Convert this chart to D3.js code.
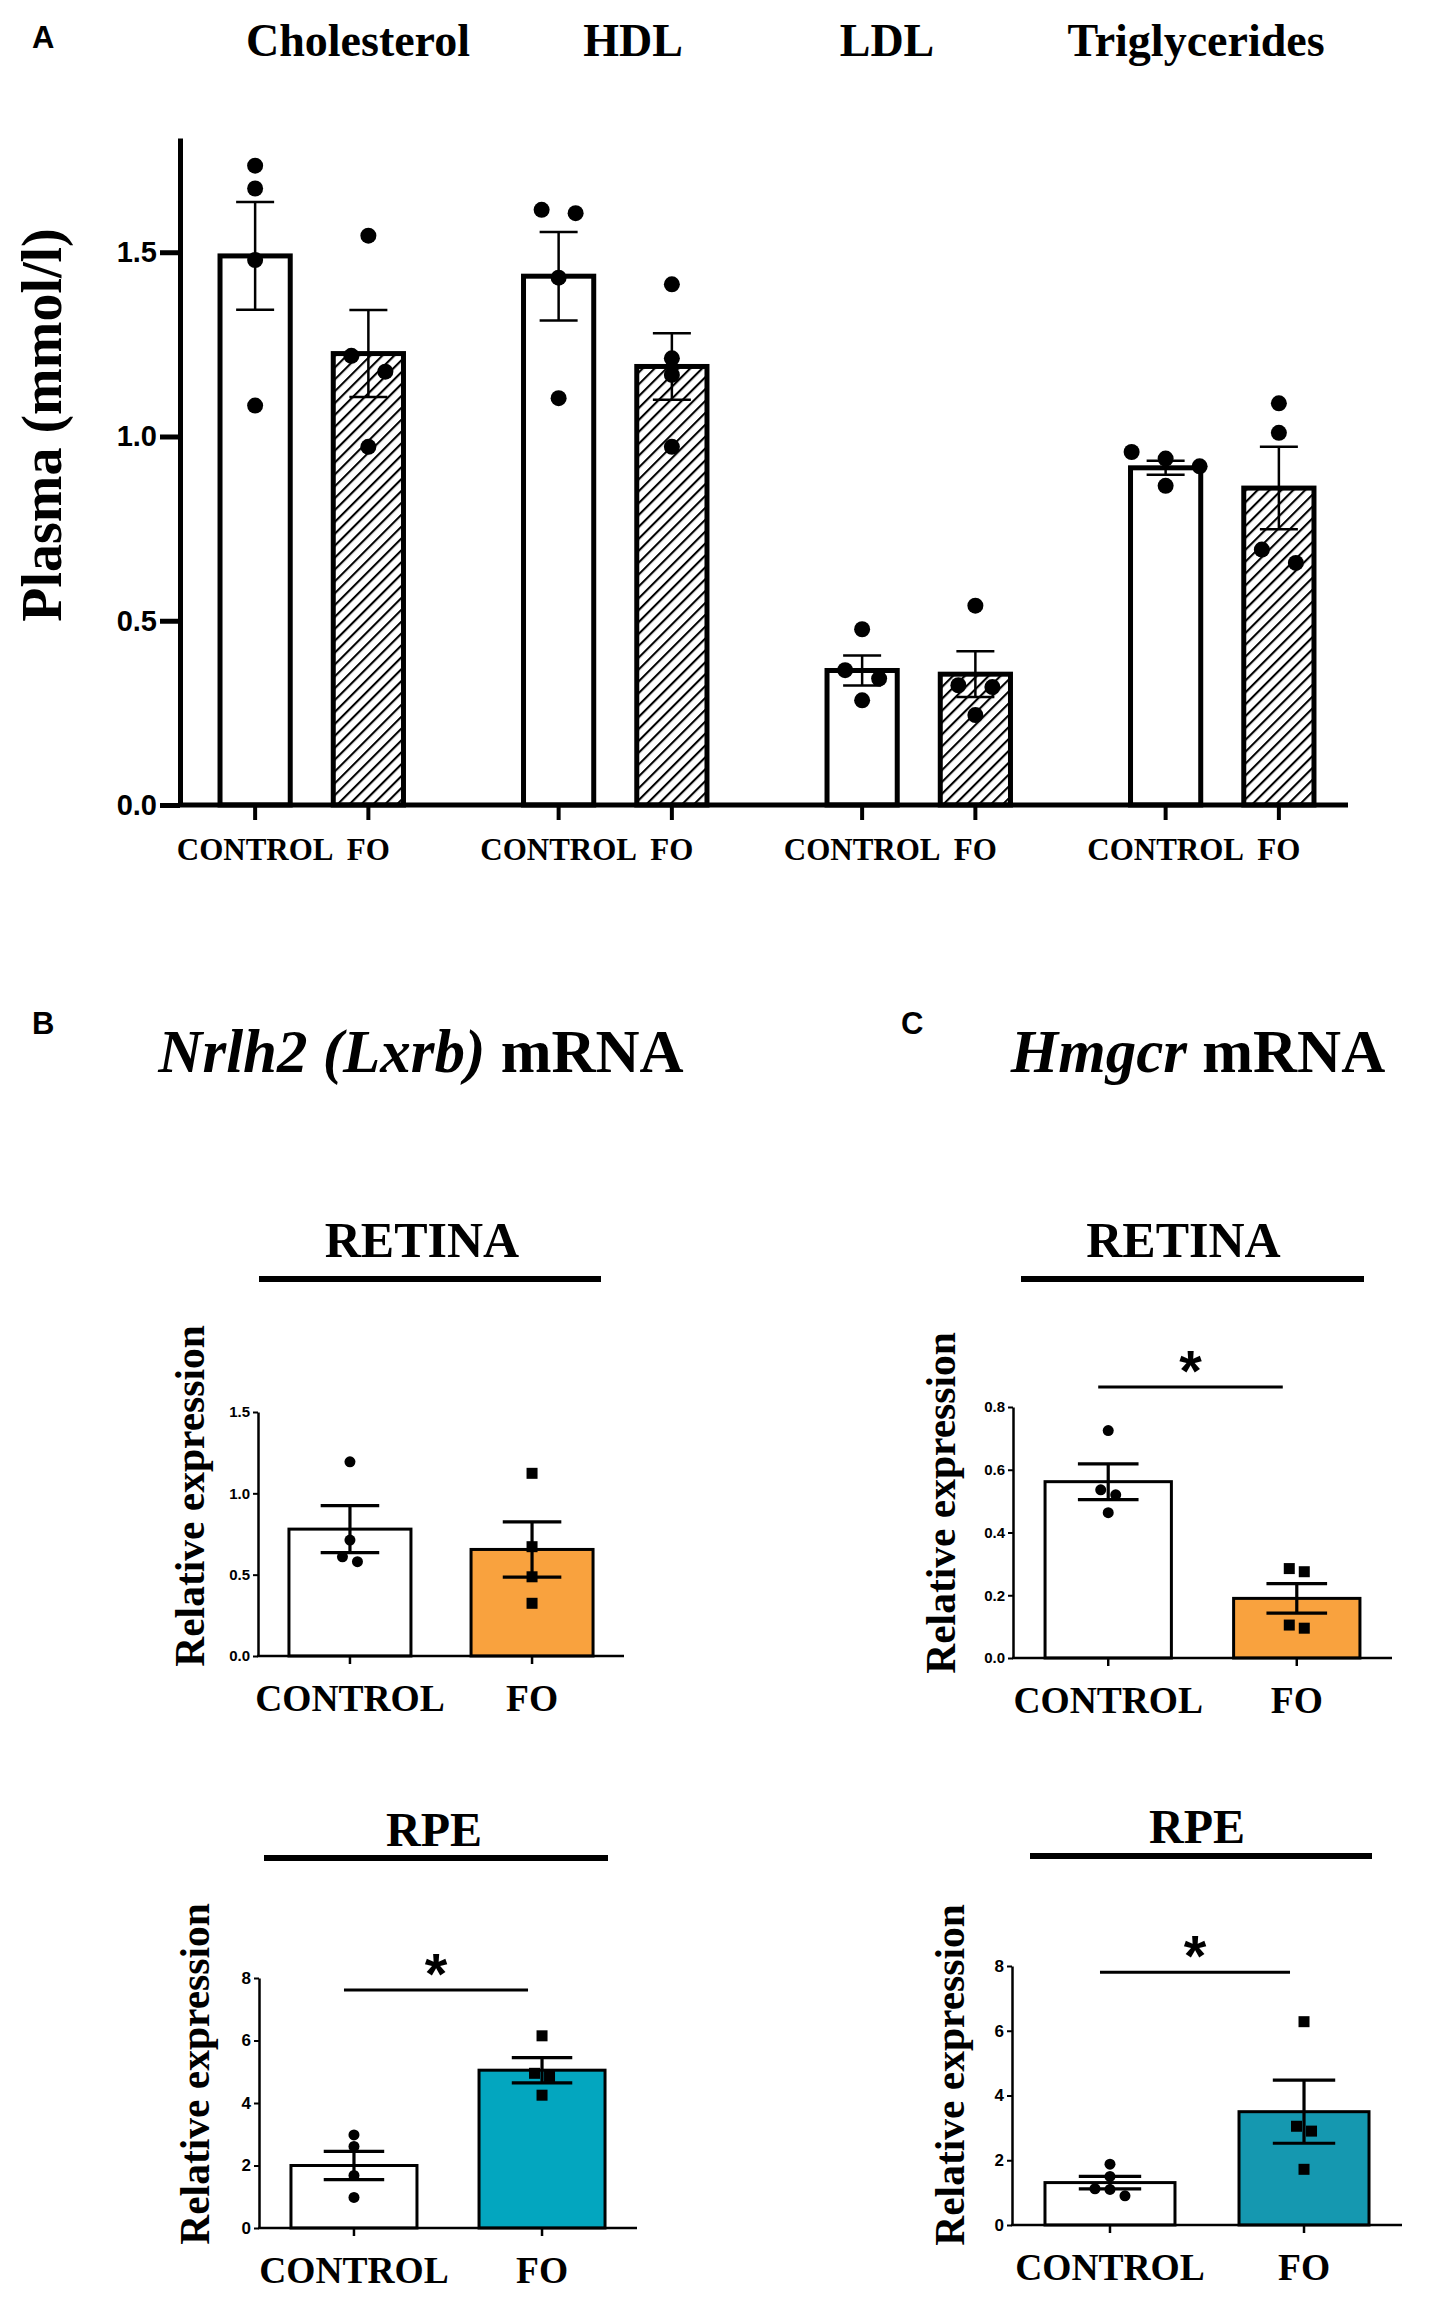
<!DOCTYPE html>
<html lang="en">
<head>
<meta charset="UTF-8">
<title>Plasma lipids and retina / RPE mRNA</title>
<script src="https://d3js.org/d3.v7.min.js"></script>
<style>
  body { margin: 0; background: #ffffff; }
  .serif { font-family: "Liberation Serif", "Times New Roman", serif; }
  .sans { font-family: "Liberation Sans", Arial, sans-serif; }
</style>
</head>
<body>
<svg id="svg" width="1429" height="2308"></svg>
<script>
// ---------- data ----------
const lipids = ["Cholesterol", "HDL", "LDL", "Triglycerides"];
const groups = ["CONTROL", "FO"];

// panel A, plasma (mmol/l)
const plasmaControlMean = [1.49, 1.435, 0.365, 0.915];
const plasmaControlSem  = [0.146, 0.12, 0.041, 0.019];
const plasmaFoMean      = [1.225, 1.19, 0.355, 0.86];
const plasmaFoSem       = [0.118, 0.09, 0.062, 0.112];
const plasmaControlPoints = [
  [1.735, 1.673, 1.479, 1.084],
  [1.615, 1.606, 1.431, 1.104],
  [0.477, 0.366, 0.343, 0.284],
  [0.958, 0.940, 0.919, 0.866]
];
const plasmaFoPoints = [
  [1.545, 1.219, 1.176, 0.972],
  [1.413, 1.212, 1.167, 0.972],
  [0.541, 0.325, 0.320, 0.244],
  [1.090, 1.010, 0.693, 0.657]
];
const plasmaTicks = [0, 0.5, 1.0, 1.5];

// panels B / C, relative expression  [CONTROL, FO]
const nrlh2RetinaMean = [0.78, 0.655];
const nrlh2RetinaSem  = [0.145, 0.17];
const nrlh2RetinaPoints = [[1.194, 0.713, 0.61, 0.58], [1.123, 0.672, 0.487, 0.324]];

const hmgcrRetinaMean = [0.562, 0.19];
const hmgcrRetinaSem  = [0.057, 0.047];
const hmgcrRetinaPoints = [[0.725, 0.536, 0.52, 0.463], [0.285, 0.275, 0.105, 0.095]];

const nrlh2RpeMean = [2.0, 5.05];
const nrlh2RpeSem  = [0.455, 0.405];
const nrlh2RpePoints = [[2.98, 2.61, 1.68, 0.98], [6.15, 4.95, 4.85, 4.25]];

const hmgcrRpeMean = [1.31, 3.5];
const hmgcrRpeSem  = [0.195, 0.975];
const hmgcrRpePoints = [[1.88, 1.5, 1.12, 1.1, 0.9], [6.28, 3.05, 2.9, 1.72]];

const retinaTicksB = [0, 0.5, 1.0, 1.5];
const retinaTicksC = [0, 0.2, 0.4, 0.6, 0.8];
const rpeTicks = [0, 2, 4, 6, 8];

const orange = "#f9a23e";
const tealB = "#03a6bf";
const tealC = "#1598b0";

// ---------- helpers ----------
const svg = d3.select("#svg");
svg.append("rect").attr("width", 1429).attr("height", 2308).attr("fill", "#fff");

// GraphPad-like scatter: points at nearly the same height sit side by side
function swarm(values, y, d, step) {
  const sorted = values.map(v => ({ v, py: y(v) })).sort((a, b) => a.py - b.py);
  const rows = [];
  sorted.forEach(p => {
    const row = rows[rows.length - 1];
    if (row && Math.abs(p.py - row[0].py) < d) row.push(p);
    else rows.push([p]);
  });
  const out = [];
  rows.forEach(row => row.forEach((p, i) => out.push({ v: p.v, py: p.py, dx: (i - (row.length - 1) / 2) * step })));
  return out;
}

// hatch pattern
const defs = svg.append("defs");
defs.append("pattern")
  .attr("id", "hatch")
  .attr("patternUnits", "userSpaceOnUse")
  .attr("width", 8.4).attr("height", 8.4)
  .attr("patternTransform", "rotate(45)")
  .append("line")
  .attr("x1", 0).attr("y1", 0).attr("x2", 0).attr("y2", 8.4)
  .attr("stroke", "#000").attr("stroke-width", 4.2);

// ---------- panel A ----------
const gA = svg.append("g");
const yA = d3.scaleLinear().domain([0, 1.81]).range([805, 138]);
const xGroup = d3.scaleBand().domain(lipids).range([160, 1374]);
const xSubA = d3.scaleBand().domain(groups).range([0, xGroup.bandwidth()]).paddingInner(0.38).paddingOuter(0.53);
const titleX = [358, 633, 887, 1196];

const barsA = [];
lipids.forEach((l, i) => {
  barsA.push({ lipid: l, group: "CONTROL", mean: plasmaControlMean[i], sem: plasmaControlSem[i], pts: plasmaControlPoints[i] });
  barsA.push({ lipid: l, group: "FO", mean: plasmaFoMean[i], sem: plasmaFoSem[i], pts: plasmaFoPoints[i] });
});
const cxA = d => xGroup(d.lipid) + xSubA(d.group) + xSubA.bandwidth() / 2;

gA.selectAll(".barA").data(barsA).join("rect")
  .attr("x", d => xGroup(d.lipid) + xSubA(d.group))
  .attr("y", d => yA(d.mean))
  .attr("width", xSubA.bandwidth())
  .attr("height", d => yA(0) - yA(d.mean))
  .attr("fill", d => d.group === "FO" ? "url(#hatch)" : "#fff")
  .attr("stroke", "#000").attr("stroke-width", 5);

const errA = gA.selectAll(".errA").data(barsA).join("g");
errA.append("line")
  .attr("x1", cxA).attr("x2", cxA)
  .attr("y1", d => yA(d.mean - d.sem)).attr("y2", d => yA(d.mean + d.sem))
  .attr("stroke", "#000").attr("stroke-width", 2.5);
[1, -1].forEach(s => {
  errA.append("line")
    .attr("x1", d => cxA(d) - 19).attr("x2", d => cxA(d) + 19)
    .attr("y1", d => yA(d.mean + s * d.sem)).attr("y2", d => yA(d.mean + s * d.sem))
    .attr("stroke", "#000").attr("stroke-width", 2.5);
});

barsA.forEach(b => {
  gA.selectAll(null).data(swarm(b.pts, yA, 16, 34)).join("circle")
    .attr("cx", p => cxA(b) + p.dx).attr("cy", p => p.py).attr("r", 8).attr("fill", "#000");
});

// axes
const axA = gA.append("g").attr("transform", "translate(180,0)")
  .call(d3.axisLeft(yA).tickValues(plasmaTicks).tickFormat(d3.format(".1f")).tickSize(20).tickSizeOuter(0).tickPadding(3));
axA.select(".domain").attr("stroke-width", 5);
axA.selectAll(".tick line").attr("stroke-width", 5);
axA.selectAll(".tick text").attr("class", "sans").attr("font-size", 29).attr("font-weight", "bold").attr("fill", "#000");

gA.append("line").attr("x1", 178).attr("x2", 1348).attr("y1", yA(0)).attr("y2", yA(0))
  .attr("stroke", "#000").attr("stroke-width", 5);
gA.selectAll(".xtA").data(barsA).join("line")
  .attr("x1", cxA).attr("x2", cxA).attr("y1", yA(0)).attr("y2", yA(0) + 15)
  .attr("stroke", "#000").attr("stroke-width", 4);
gA.selectAll(".xlA").data(barsA).join("text")
  .attr("class", "serif").attr("x", cxA).attr("y", 860)
  .attr("text-anchor", "middle").attr("font-size", 31).attr("font-weight", "bold").attr("fill", "#000")
  .text(d => d.group);

gA.selectAll(".titleA").data(lipids).join("text")
  .attr("class", "serif").attr("x", (d, i) => titleX[i]).attr("y", 56)
  .attr("text-anchor", "middle").attr("font-size", 46).attr("font-weight", "bold")
  .text(d => d);

gA.append("text").attr("class", "serif")
  .attr("transform", "translate(61,425) rotate(-90)")
  .attr("text-anchor", "middle").attr("font-size", 56).attr("font-weight", "bold")
  .text("Plasma (mmol/l)");

// panel letters and gene titles
[["A", 32, 48], ["B", 32, 1034], ["C", 901, 1034]].forEach(([t, x, y]) => {
  svg.append("text").attr("class", "sans").attr("x", x).attr("y", y)
    .attr("font-size", 31).attr("font-weight", "bold").text(t);
});
const geneTitles = [["Nrlh2 (Lxrb)", 421], ["Hmgcr", 1198]];
geneTitles.forEach(([g, x]) => {
  const t = svg.append("text").attr("class", "serif").attr("x", x).attr("y", 1072)
    .attr("text-anchor", "middle").attr("font-size", 61).attr("font-weight", "bold");
  t.append("tspan").attr("font-style", "italic").text(g);
  t.append("tspan").text(" mRNA");
});

// ---------- panels B / C ----------
const subPanels = [
  { mean: nrlh2RetinaMean, sem: nrlh2RetinaSem, pts: nrlh2RetinaPoints, ticks: retinaTicksB, fmt: ".1f", tickFont: 15,
    color: orange, head: "RETINA", x0: 258, x1: 624, yBase: 1656, yTop: 1412, headLine: [259, 601, 1279], headY: 1257, headDx: -8, headSize: 50,
    labelX: 204, labelY: 1496, sig: null },
  { mean: hmgcrRetinaMean, sem: hmgcrRetinaSem, pts: hmgcrRetinaPoints, ticks: retinaTicksC, fmt: ".1f", tickFont: 15,
    color: orange, head: "RETINA", x0: 1013, x1: 1392, yBase: 1658, yTop: 1407, headLine: [1021, 1364, 1279], headY: 1257, headDx: -9, headSize: 50,
    labelX: 955, labelY: 1503, sig: 0.864 },
  { mean: nrlh2RpeMean, sem: nrlh2RpeSem, pts: nrlh2RpePoints, ticks: rpeTicks, fmt: "d", tickFont: 17,
    color: tealB, head: "RPE", x0: 259, x1: 637, yBase: 2228, yTop: 1978, headLine: [264, 608, 1858], headY: 1846, headDx: -2, headSize: 48,
    labelX: 209, labelY: 2074, sig: 7.62 },
  { mean: hmgcrRpeMean, sem: hmgcrRpeSem, pts: hmgcrRpePoints, ticks: rpeTicks, fmt: "d", tickFont: 17,
    color: tealC, head: "RPE", x0: 1012, x1: 1402, yBase: 2225, yTop: 1966, headLine: [1030, 1372, 1856], headY: 1843, headDx: -4, headSize: 48,
    labelX: 964, labelY: 2075, sig: 7.81 }
];

subPanels.forEach(p => {
  const g = svg.append("g");
  const y = d3.scaleLinear().domain([0, d3.max(p.ticks)]).range([p.yBase, p.yTop]);
  const x = d3.scaleBand().domain(groups).range([p.x0, p.x1]).paddingInner(0.33).paddingOuter(0.17);
  const cx = gr => x(gr) + x.bandwidth() / 2;
  const rows = groups.map((gr, i) => ({ group: gr, mean: p.mean[i], sem: p.sem[i], pts: p.pts[i] }));

  g.selectAll(".bar").data(rows).join("rect")
    .attr("x", d => x(d.group)).attr("y", d => y(d.mean))
    .attr("width", x.bandwidth()).attr("height", d => y(0) - y(d.mean))
    .attr("fill", d => d.group === "FO" ? p.color : "#fff")
    .attr("stroke", "#000").attr("stroke-width", 3);

  const capW = x.bandwidth() * 0.24;
  const err = g.selectAll(".err").data(rows).join("g");
  err.append("line")
    .attr("x1", d => cx(d.group)).attr("x2", d => cx(d.group))
    .attr("y1", d => y(d.mean - d.sem)).attr("y2", d => y(d.mean + d.sem))
    .attr("stroke", "#000").attr("stroke-width", 3.2);
  [1, -1].forEach(s => {
    err.append("line")
      .attr("x1", d => cx(d.group) - capW).attr("x2", d => cx(d.group) + capW)
      .attr("y1", d => y(d.mean + s * d.sem)).attr("y2", d => y(d.mean + s * d.sem))
      .attr("stroke", "#000").attr("stroke-width", 3.2);
  });

  rows.forEach(r => {
    const sw = swarm(r.pts, y, 11, 15);
    if (r.group === "CONTROL") {
      g.selectAll(null).data(sw).join("circle")
        .attr("cx", q => cx(r.group) + q.dx).attr("cy", q => q.py).attr("r", 5.5).attr("fill", "#000");
    } else {
      g.selectAll(null).data(sw).join("rect")
        .attr("x", q => cx(r.group) + q.dx - 5.5).attr("y", q => q.py - 5.5)
        .attr("width", 11).attr("height", 11).attr("fill", "#000");
    }
  });

  const ax = g.append("g").attr("transform", `translate(${p.x0},0)`)
    .call(d3.axisLeft(y).tickValues(p.ticks).tickFormat(d3.format(p.fmt)).tickSize(5).tickSizeOuter(0).tickPadding(3));
  ax.select(".domain").attr("stroke-width", 2.5);
  ax.selectAll(".tick line").attr("stroke-width", 2);
  ax.selectAll(".tick text").attr("class", "sans").attr("font-size", p.tickFont).attr("font-weight", "bold").attr("fill", "#000");

  g.append("line").attr("x1", p.x0 - 1).attr("x2", p.x1).attr("y1", y(0)).attr("y2", y(0))
    .attr("stroke", "#000").attr("stroke-width", 2.5);
  g.selectAll(".xt").data(groups).join("line")
    .attr("x1", cx).attr("x2", cx).attr("y1", y(0)).attr("y2", y(0) + 8)
    .attr("stroke", "#000").attr("stroke-width", 2.5);
  g.selectAll(".xl").data(groups).join("text")
    .attr("class", "serif").attr("x", cx).attr("y", p.yBase + 55)
    .attr("text-anchor", "middle").attr("font-size", 37.5).attr("font-weight", "bold")
    .text(d => d);

  g.append("text").attr("class", "serif")
    .attr("transform", `translate(${p.labelX},${p.labelY}) rotate(-90)`)
    .attr("text-anchor", "middle").attr("font-size", 41.5).attr("font-weight", "bold")
    .text("Relative expression");

  const [hx1, hx2, hy] = p.headLine;
  g.append("line").attr("x1", hx1).attr("x2", hx2).attr("y1", hy).attr("y2", hy)
    .attr("stroke", "#000").attr("stroke-width", 6);
  g.append("text").attr("class", "serif").attr("x", (hx1 + hx2) / 2 + p.headDx).attr("y", p.headY)
    .attr("text-anchor", "middle").attr("font-size", p.headSize).attr("font-weight", "bold")
    .text(p.head);

  if (p.sig !== null) {
    const sx1 = cx("CONTROL") - 10, sx2 = cx("FO") - 14, sy = y(p.sig);
    g.append("line").attr("x1", sx1).attr("x2", sx2).attr("y1", sy).attr("y2", sy)
      .attr("stroke", "#000").attr("stroke-width", 3);
    g.append("text").attr("class", "sans").attr("x", (sx1 + sx2) / 2).attr("y", sy + 4)
      .attr("text-anchor", "middle").attr("font-size", 58).attr("font-weight", "bold")
      .text("*");
  }
});
</script>
</body>
</html>
